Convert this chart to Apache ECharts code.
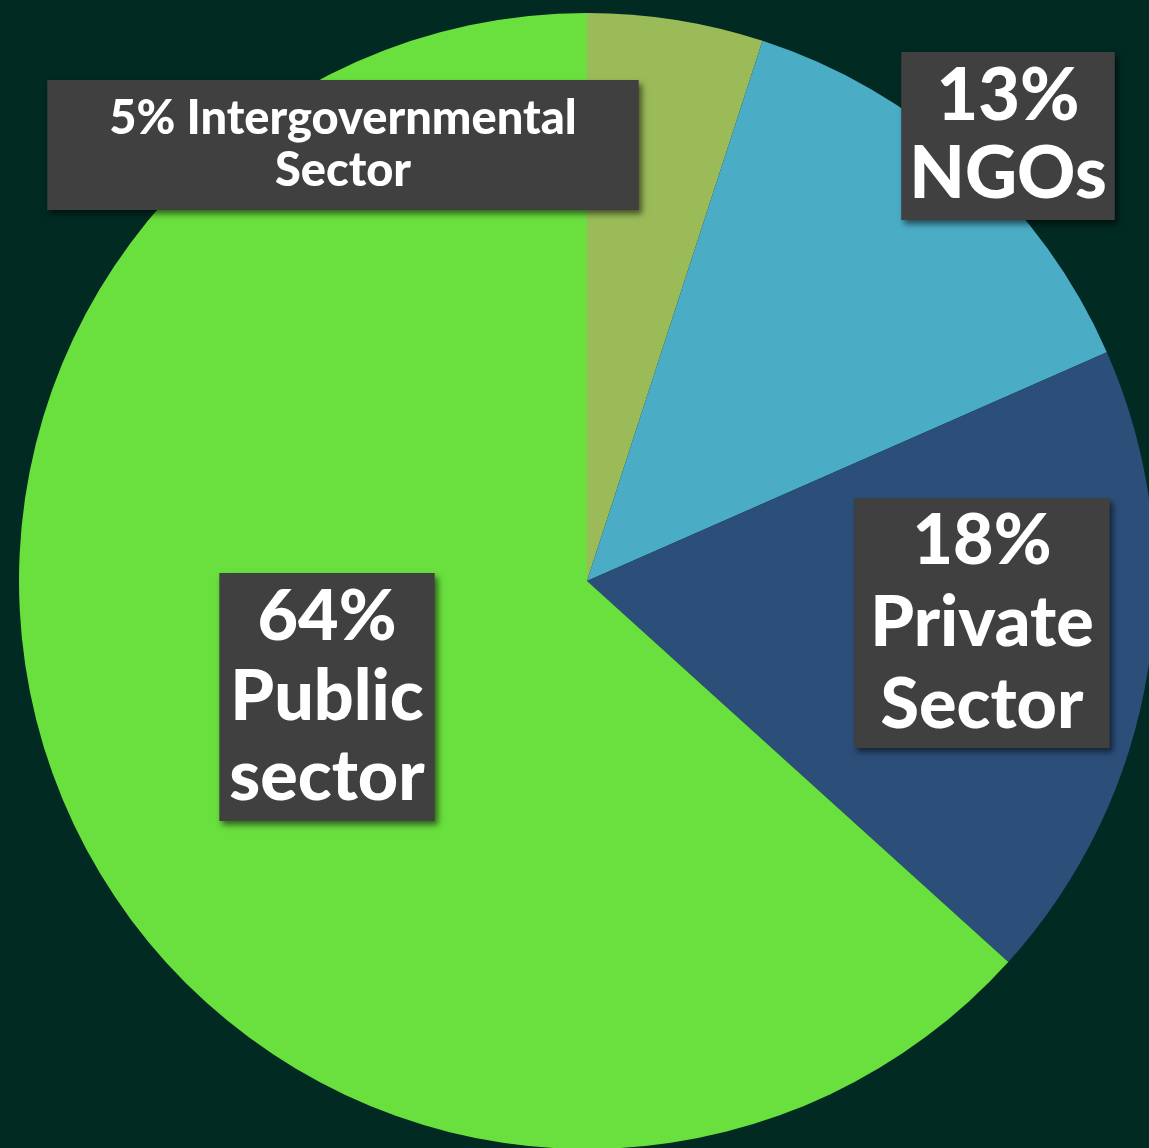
<!DOCTYPE html>
<html>
<head>
<meta charset="utf-8">
<script src="https://cdn.jsdelivr.net/npm/echarts@6/dist/echarts.min.js"></script>
<style>
html,body{margin:0;padding:0;background:#012a23;}
#chart{width:1149px;height:1148px;}
</style>
</head>
<body>
<div id="chart"></div>
<script>
const categories = ["Intergovernmental Sector", "NGOs", "Private Sector", "Public sector"];
const values = [5.0, 13.4, 18.3, 63.3];
const labelTexts = ["5% Intergovernmental\nSector", "13%\nNGOs", "18%\nPrivate\nSector", "64%\nPublic\nsector"];
const colors = ["#9bbb59", "#4bacc6", "#2c4f7a", "#6ae03f"];

const labelPos = [[343, 145], [1008, 136], [982, 623], [327, 697]];
const labelStyle = [
  {fontSize: 47, lineHeight: 52, padding: [13, 62, 13, 62]},
  {fontSize: 72, lineHeight: 78, padding: [6, 8, 6, 8]},
  {fontSize: 70, lineHeight: 82, padding: [2, 16, 2, 16]},
  {fontSize: 70, lineHeight: 80, padding: [4, 10, 4, 10]}
];

const chart = echarts.init(document.getElementById('chart'));
chart.setOption({
  backgroundColor: '#012a23',
  animation: false,
  series: [{
    type: 'pie',
    center: [587, 581],
    radius: 568,
    startAngle: 90,
    clockwise: true,
    avoidLabelOverlap: false,
    labelLine: {show: false},
    data: categories.map((c, i) => ({
      name: c,
      value: values[i],
      itemStyle: {color: colors[i]},
      label: Object.assign({
        show: true,
        formatter: labelTexts[i],
        color: '#ffffff',
        fontFamily: 'Lato',
        fontWeight: 900,
        align: 'center',
        verticalAlign: 'middle',
        backgroundColor: '#404040',
        shadowColor: 'rgba(0,0,0,0.55)',
        shadowBlur: 6,
        shadowOffsetX: 3,
        shadowOffsetY: 4
      }, labelStyle[i])
    }))
  }]
});
chart.setOption({
  series: [{
    labelLayout: function (params) {
      const p = labelPos[params.dataIndex];
      return {x: p[0], y: p[1], align: 'center', verticalAlign: 'middle'};
    }
  }]
});
</script>
</body>
</html>
